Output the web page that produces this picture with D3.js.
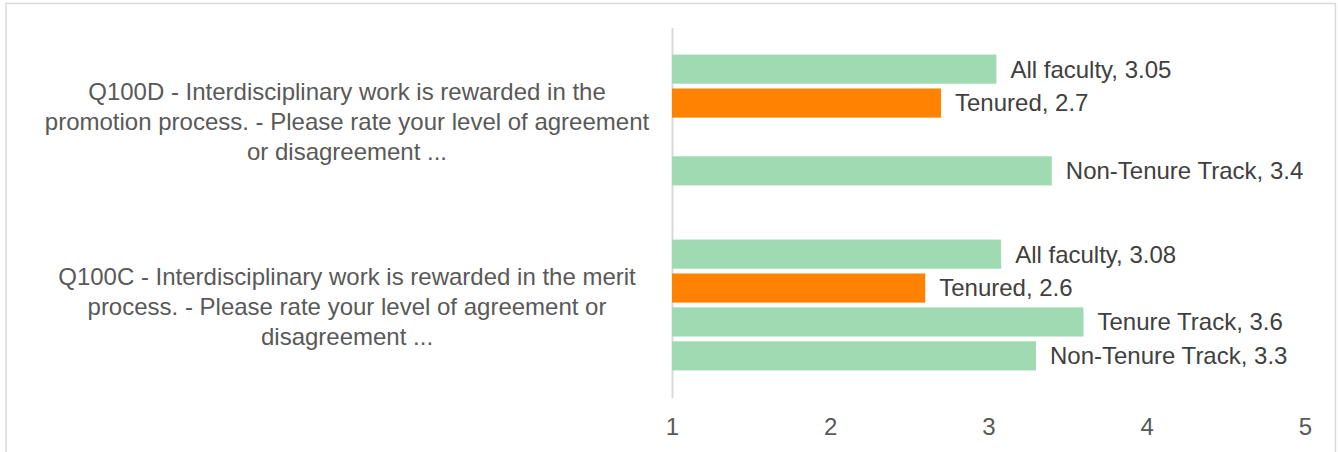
<html>
<head>
<meta charset="utf-8">
<script src="https://d3js.org/d3.v7.min.js"></script>
<style>
  body { margin: 0; background: #fff; }
  text { font-family: Arial, "Liberation Sans", sans-serif; }
</style>
</head>
<body>
<div id="chart"></div>
<script>
// data
var questions = ["Q100D", "Q100C"];
var questionLines = {
  Q100D: ["Q100D - Interdisciplinary work is rewarded in the",
          "promotion process. - Please rate your level of agreement",
          "or disagreement ..."],
  Q100C: ["Q100C - Interdisciplinary work is rewarded in the merit",
          "process. - Please rate your level of agreement or",
          "disagreement ..."]
};
var groups = ["All faculty", "Tenured", "Tenure Track", "Non-Tenure Track"];
var q100dValues = [3.05, 2.7, null, 3.4];
var q100cValues = [3.08, 2.6, 3.6, 3.3];
var xTicks = [1, 2, 3, 4, 5];

var values = { Q100D: q100dValues, Q100C: q100cValues };
var colors = { "All faculty": "#a0dab3", "Tenured": "#ff8200", "Tenure Track": "#a0dab3", "Non-Tenure Track": "#a0dab3" };

var width = 1338, height = 452;

var svg = d3.select("#chart")
  .append("svg")
  .attr("width", width)
  .attr("height", height);

// chart frame
svg.append("rect")
  .attr("x", 6).attr("y", 3.5)
  .attr("width", 1329.5).attr("height", 470)
  .attr("fill", "none")
  .attr("stroke", "#d9d9d9")
  .attr("stroke-width", 1.5);

var x = d3.scaleLinear().domain([1, 5]).range([672, 1305]);

var y0 = d3.scaleBand()
  .domain(questions)
  .range([27.5, 397.5])
  .paddingInner(0.267)
  .paddingOuter(0.1335);

var y1 = d3.scaleBand()
  .domain(groups)
  .range([0, y0.bandwidth()])
  .paddingInner(0.14)
  .paddingOuter(0.07);

// x axis labels only
var xAxis = svg.append("g")
  .attr("transform", "translate(0," + y0.range()[1] + ")")
  .call(d3.axisBottom(x).tickValues(xTicks).tickFormat(d3.format("d")).tickSize(0).tickPadding(20.5));
xAxis.select(".domain").remove();
xAxis.selectAll("text")
  .attr("font-size", 24)
  .attr("font-family", "Arial, 'Liberation Sans', sans-serif")
  .attr("fill", "#595959");

// vertical axis line
var yAxis = svg.append("g")
  .attr("transform", "translate(" + x(1) + ",0)")
  .call(d3.axisLeft(y0).tickSize(0).tickFormat(""));
yAxis.select(".domain")
  .attr("stroke", "#d9d9d9")
  .attr("stroke-width", 2);

// category labels
questions.forEach(function(q) {
  var cy = y0(q) + y0.bandwidth() / 2 + 1.5;
  var lines = questionLines[q];
  var t = svg.append("text")
    .attr("x", 347)
    .attr("text-anchor", "middle")
    .attr("font-size", 24)
    .attr("fill", "#595959");
  lines.forEach(function(l, i) {
    t.append("tspan")
      .attr("x", 347)
      .attr("y", cy + (i - (lines.length - 1) / 2) * 30)
      .attr("dy", "0.35em")
      .text(l);
  });
});

// bars and labels
questions.forEach(function(q) {
  var rows = groups.map(function(g, i) { return { group: g, value: values[q][i] }; })
    .filter(function(d) { return d.value != null; });

  var g = svg.append("g").attr("transform", "translate(0," + y0(q) + ")");

  g.selectAll("rect")
    .data(rows)
    .enter().append("rect")
    .attr("x", x(1))
    .attr("y", function(d) { return y1(d.group); })
    .attr("width", function(d) { return x(d.value) - x(1); })
    .attr("height", y1.bandwidth())
    .attr("fill", function(d) { return colors[d.group]; });

  g.selectAll("text")
    .data(rows)
    .enter().append("text")
    .attr("x", function(d) { return x(d.value) + 14; })
    .attr("y", function(d) { return y1(d.group) + y1.bandwidth() / 2; })
    .attr("dy", "0.35em")
    .attr("font-size", 24)
    .attr("fill", "#404040")
    .text(function(d) { return d.group + ", " + d.value; });
});
</script>
</body>
</html>
